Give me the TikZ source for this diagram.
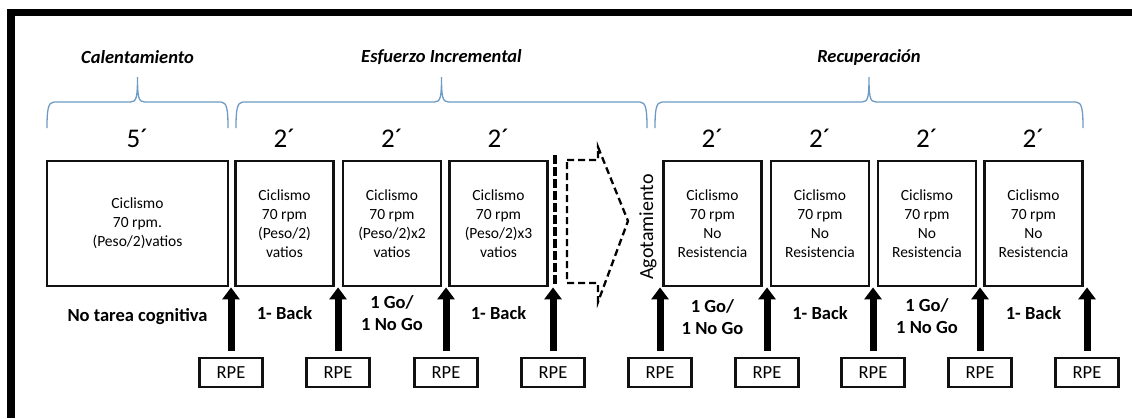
\documentclass[tikz,border=0pt]{standalone}
\usepackage{fontspec}
\setmainfont{Carlito}
\usepackage{tikz}
\usetikzlibrary{positioning, arrows.meta}
\definecolor{brace-blue}{HTML}{6E9BC5}
\definecolor{box-dark}{HTML}{111111}

\begin{document}
\begin{tikzpicture}[x=1pt, y=-1pt,
    stagebox/.style={draw=box-dark, line width=2.8pt, minimum width=98pt, minimum height=125pt,
                     inner sep=0pt, align=center, font=\fontsize{15.5}{19}\selectfont},
    durlabel/.style={font=\fontsize{27}{27}\selectfont},
    phaselabel/.style={font=\fontsize{18.5}{22}\selectfont\bfseries\itshape},
    tasklabel/.style={font=\fontsize{18.5}{22}\selectfont\bfseries, align=center},
    rpebox/.style={draw=box-dark, line width=2.2pt, minimum width=63pt, minimum height=29pt,
                   inner sep=0pt, font=\fontsize{18.5}{18.5}\selectfont},
    rpearrow/.style={-{Triangle[width=17pt, length=12pt]}, line width=7pt, shorten <=6pt},
    phasebrace/.style={brace-blue, line width=1.3pt},
]
    \useasboundingbox (0,0) rectangle (1132,418);

    % Frame (top and left only)
    \draw[line width=7.5pt] (11,418) -- (11,12.5) -- (1132,12.5);

    % Phase headings and braces
    \node[phaselabel] (hwarm) at (137.5,57) {Calentamiento};
    \node[phaselabel] (hload) at (441.5,57) {Esfuerzo Incremental};
    \node[phaselabel] (hrec)  at (869,57)   {Recuperación};
    \foreach \a/\m/\b in {47/137.5/228, 236/441.5/647, 655/869/1083}
        \draw[phasebrace] (\a,128) .. controls (\a,110) and (\a+1,102) .. (\a+7,102)
            -- (\m-7,102) .. controls (\m-1,102) and (\m,97) .. (\m,77)
            .. controls (\m,97) and (\m+1,102) .. (\m+7,102)
            -- (\b-7,102) .. controls (\b-1,102) and (\b,110) .. (\b,128);

    % Stages
    \node[stagebox, minimum width=181pt] (warm) at (137.5,223.5) {Ciclismo\\70 rpm.\\(Peso/2)vatios};
    \node[stagebox] (load1) at (284.5,223.5) {Ciclismo\\70 rpm\\(Peso/2)\\vatios};
    \node[stagebox] (load2) at (392,223.5)   {Ciclismo\\70 rpm\\(Peso/2)x2\\vatios};
    \node[stagebox] (load3) at (498.5,223.5) {Ciclismo\\70 rpm\\(Peso/2)x3\\vatios};
    \node[stagebox] (rec1)  at (712.5,223.5) {Ciclismo\\70 rpm\\No\\Resistencia};
    \node[stagebox] (rec2)  at (820,223.5)   {Ciclismo\\70 rpm\\No\\Resistencia};
    \node[stagebox] (rec3)  at (927,223.5)   {Ciclismo\\70 rpm\\No\\Resistencia};
    \node[stagebox] (rec4)  at (1033.5,223.5) {Ciclismo\\70 rpm\\No\\Resistencia};

    % Durations
    \node[durlabel] (dwarm) at (137.5,138) {5´};
    \foreach \s in {load1, load2, load3, rec1, rec2, rec3, rec4}
        \node[durlabel] (d\s) at (\s |- dwarm) {2´};

    % Open-ended continuation
    \draw[line width=4.5pt, dash pattern=on 9pt off 3pt] (555,155) -- (555,285);
    \draw[line width=2.3pt, dash pattern=on 7pt off 4pt]
        (567,160) -- (598,160) -- (598,147) -- (628,221) -- (598,302) -- (598,283) -- (567,283) -- cycle;
    \node[rotate=90, font=\fontsize{20}{20}\selectfont] (exhaust) at (648,227) {Agotamiento};

    % Cognitive tasks
    \node[tasklabel] (twarm) at (137.5,317) {No tarea cognitiva};
    \node[tasklabel] (tload1) at (284.5,313) {1- Back};
    \node[tasklabel] (tload2) at (392,313)   {1 Go/\\1 No Go};
    \node[tasklabel] (tload3) at (498.5,313) {1- Back};
    \node[tasklabel] (trec1)  at (712.5,317) {1 Go/\\1 No Go};
    \node[tasklabel] (trec2)  at (820,313)   {1- Back};
    \node[tasklabel] (trec3)  at (927,316)   {1 Go/\\1 No Go};
    \node[tasklabel] (trec4)  at (1033.5,313) {1- Back};

    % RPE checks
    \foreach \x [count=\i] in {231, 338, 446, 553, 660, 767, 873, 980, 1087} {
        \node[rpebox] (rpe\i) at (\x,372.5) {RPE};
        \draw[rpearrow] (rpe\i) -- (rpe\i |- warm.south);
    }
\end{tikzpicture}
\end{document}
